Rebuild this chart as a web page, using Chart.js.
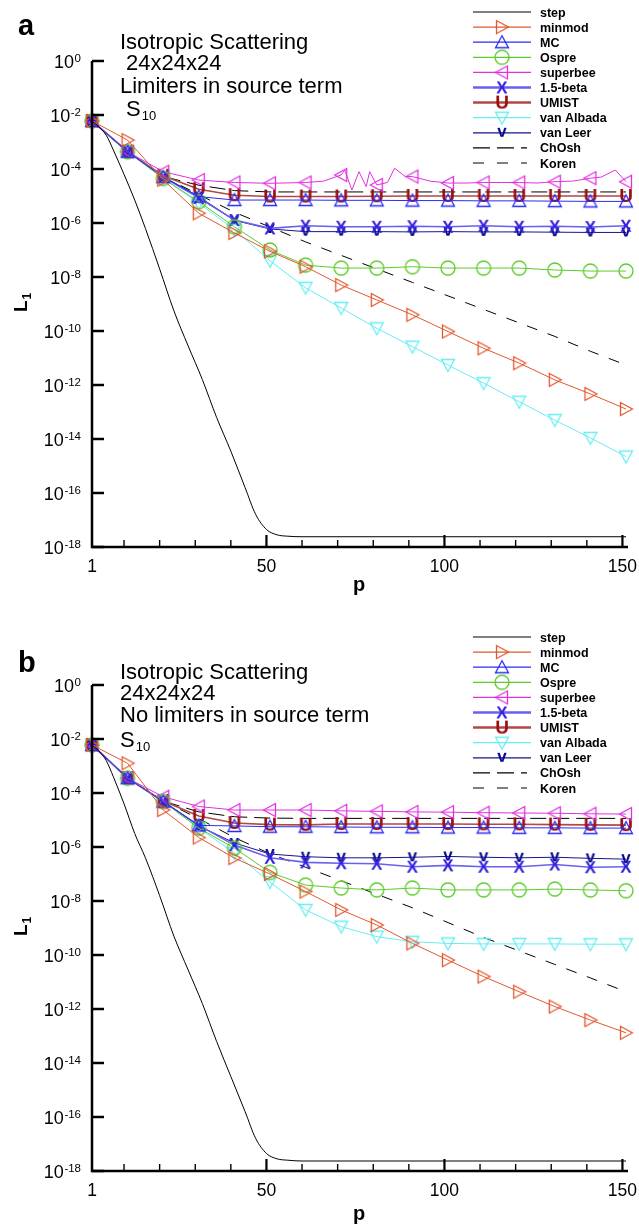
<!DOCTYPE html>
<html>
<head>
<meta charset="utf-8">
<title>L1 convergence of limiters</title>
<script src="https://cdn.jsdelivr.net/npm/chart.js@4.4.1/dist/chart.umd.min.js"></script>
<style>
  html, body { margin: 0; padding: 0; background: #fff; }
  canvas { display: block; }
</style>
</head>
<body>
<canvas id="chartA" width="639" height="624"></canvas>
<canvas id="chartB" width="639" height="603"></canvas>
<script>
// p positions where the markers sit (every 10th iteration)
const pMarks = [1, 11, 21, 31, 41, 51, 61, 71, 81, 91, 101, 111, 121, 131, 141, 151];

// all values below are log10(L1)

// --- panel a: limiters in source term ---
const stepP = [1, 3, 5, 7, 10, 13, 16, 20, 24, 28, 32, 36, 40, 44, 47, 50, 53, 56, 60, 151];
const stepA = [-2.22, -2.45, -2.75, -3.3, -4.2, -5.15, -6.2, -7.7, -9.25, -10.55, -11.8, -13.2, -14.45, -15.8, -16.8, -17.35, -17.55, -17.6, -17.62, -17.62];
const minmodA = [-2.22, -2.93, -4.4, -5.64, -6.37, -7.05, -7.62, -8.3, -8.85, -9.4, -10.02, -10.64, -11.19, -11.81, -12.33, -12.89];
const mcA = [-2.22, -3.36, -4.3, -5.02, -5.15, -5.15, -5.15, -5.16, -5.16, -5.17, -5.17, -5.18, -5.18, -5.19, -5.2, -5.2];
const ospreA = [-2.22, -3.36, -4.35, -5.21, -6.14, -7.0, -7.56, -7.67, -7.67, -7.62, -7.67, -7.67, -7.67, -7.74, -7.78, -7.78];
const superbeeP = [1, 11, 21, 31, 41, 51, 61, 66, 71, 72, 74, 76, 78, 79, 81, 84, 86, 89, 91, 96, 101, 106, 111, 116, 121, 126, 131, 136, 141, 144, 148, 151];
const superbeeA = [-2.22, -3.36, -4.1, -4.41, -4.5, -4.53, -4.5, -4.45, -4.22, -4.04, -4.78, -4.1, -4.65, -4.1, -4.59, -4.5, -3.97, -4.28, -4.28, -4.45, -4.52, -4.52, -4.5, -4.5, -4.5, -4.52, -4.47, -4.45, -4.34, -4.3, -4.04, -4.47];
const betaA = [-2.22, -3.36, -4.3, -5.07, -5.89, -6.2, -6.1, -6.14, -6.14, -6.12, -6.14, -6.1, -6.14, -6.12, -6.15, -6.1];
const umistA = [-2.22, -3.36, -4.25, -4.75, -4.97, -5.02, -5.02, -5.02, -5.01, -5.0, -5.0, -5.0, -5.0, -5.0, -5.0, -5.0];
const albadaA = [-2.22, -3.36, -4.35, -5.27, -6.25, -7.4, -8.4, -9.15, -9.9, -10.58, -11.26, -11.93, -12.62, -13.3, -13.96, -14.65];
const leerA = [-2.22, -3.36, -4.28, -5.02, -5.9, -6.22, -6.32, -6.32, -6.32, -6.33, -6.32, -6.33, -6.33, -6.34, -6.35, -6.35];
const chOshA = [-2.22, -3.36, -4.28, -4.6, -4.8, -4.85, -4.85, -4.85, -4.85, -4.85, -4.85, -4.85, -4.85, -4.85, -4.85, -4.85];
const korenA = [-2.22, -3.36, -4.28, -4.95, -5.6, -6.15, -6.7, -7.2, -7.7, -8.2, -8.7, -9.2, -9.7, -10.2, -10.75, -11.26];

// --- panel b: no limiters in source term ---
const stepB = [-2.22, -2.45, -2.8, -3.4, -4.4, -5.5, -6.4, -7.8, -9.3, -10.55, -11.8, -13.2, -14.5, -15.8, -16.8, -17.35, -17.55, -17.6, -17.63, -17.63];
const minmodB = [-2.22, -2.9, -4.63, -5.65, -6.41, -7.0, -7.65, -8.33, -8.89, -9.57, -10.19, -10.8, -11.36, -11.91, -12.41, -12.88];
const mcB = [-2.22, -3.45, -4.32, -5.2, -5.22, -5.25, -5.25, -5.26, -5.27, -5.27, -5.28, -5.28, -5.29, -5.29, -5.3, -5.3];
const ospreB = [-2.22, -3.45, -4.32, -5.3, -6.04, -6.94, -7.41, -7.52, -7.59, -7.52, -7.59, -7.59, -7.59, -7.56, -7.59, -7.62];
const superbeeB = [-2.22, -3.45, -4.14, -4.5, -4.63, -4.63, -4.63, -4.66, -4.68, -4.7, -4.71, -4.73, -4.74, -4.75, -4.77, -4.78];
const betaB = [-2.22, -3.45, -4.32, -5.2, -5.93, -6.4, -6.57, -6.6, -6.62, -6.73, -6.68, -6.73, -6.73, -6.65, -6.75, -6.73];
const umistB = [-2.22, -3.45, -4.3, -4.85, -5.11, -5.17, -5.18, -5.15, -5.15, -5.15, -5.15, -5.16, -5.16, -5.17, -5.18, -5.19];
const albadaB = [-2.22, -3.45, -4.32, -5.3, -6.22, -7.3, -8.33, -8.95, -9.32, -9.51, -9.57, -9.59, -9.59, -9.59, -9.6, -9.6];
const leerB = [-2.22, -3.45, -4.3, -5.22, -5.85, -6.26, -6.36, -6.4, -6.4, -6.38, -6.35, -6.38, -6.4, -6.38, -6.42, -6.45];
const chOshB = [-2.22, -3.45, -4.3, -4.7, -4.88, -4.93, -4.94, -4.94, -4.94, -4.94, -4.94, -4.94, -4.94, -4.94, -4.94, -4.94];
const korenB = [-2.22, -3.45, -4.3, -4.95, -5.65, -6.25, -6.75, -7.25, -7.75, -8.25, -8.8, -9.35, -9.85, -10.35, -10.85, -11.36];

// axes
const yTickExp = [0, -2, -4, -6, -8, -10, -12, -14, -16, -18];
const xLabels = [1, 50, 100, 150];
const xMajor = [50, 100, 150];
const xMinor = [10, 20, 30, 40, 60, 70, 80, 90, 110, 120, 130, 140];

const FONT = '"Liberation Sans", Arial, sans-serif';

// marker glyphs, drawn once and used as point styles
function triMarker(color, rot) {
    const c = document.createElement('canvas');
    c.width = 18; c.height = 18;
    const g = c.getContext('2d');
    g.translate(9, 9);
    g.rotate(rot * Math.PI / 180);
    g.strokeStyle = color;
    g.lineWidth = 1.3;
    g.beginPath();
    g.moveTo(0, -6.5); g.lineTo(6.5, 5.5); g.lineTo(-6.5, 5.5);
    g.closePath();
    g.stroke();
    return c;
}
function circleMarker(color) {
    const c = document.createElement('canvas');
    c.width = 18; c.height = 18;
    const g = c.getContext('2d');
    g.strokeStyle = color;
    g.lineWidth = 1.3;
    g.beginPath();
    g.arc(9, 9, 7, 0, Math.PI * 2);
    g.stroke();
    return c;
}
function letterMarker(ch, color, size, dy) {
    const c = document.createElement('canvas');
    c.width = 20; c.height = 20;
    const g = c.getContext('2d');
    g.fillStyle = color;
    g.font = 'bold ' + size + 'px ' + FONT;
    g.textAlign = 'center';
    g.textBaseline = 'middle';
    g.fillText(ch, 10, 10 + dy);
    return c;
}

const COL = {
    minmod: '#e2572f', mc: '#2b2bf5', ospre: '#5ccb2c', superbee: '#e030e0',
    beta: '#6a5ff0', umist: '#b04848', albada: '#66eef2', leer: '#14148e'
};
const MK = {
    minmod: triMarker(COL.minmod, 90),
    mc: triMarker(COL.mc, 0),
    ospre: circleMarker(COL.ospre),
    superbee: triMarker(COL.superbee, -90),
    beta: letterMarker('X', '#3322dd', 17, 1),
    umist: letterMarker('U', '#9b0f0f', 19, 1),
    albada: triMarker(COL.albada, 180),
    leer: letterMarker('v', '#0a0a8a', 17, -1)
};

function pts(ps, logs) {
    return ps.map((p, i) => ({ x: p, y: Math.pow(10, logs[i]) }));
}
function series(label, ps, logs, color, marker, extra) {
    return Object.assign({
        label: label,
        data: pts(ps, logs),
        borderColor: color,
        borderWidth: 1,
        tension: 0,
        fill: false,
        clip: false,
        pointStyle: marker || false,
        pointRadius: marker ? (c => (c.raw && pMarks.includes(c.raw.x)) ? 6 : 0) : 0,
        pointHoverRadius: 0,
        pointBorderWidth: 0
    }, extra || {});
}

function buildSets(d) {
    return [
        series('step', stepP, d.step, '#000', null, { cubicInterpolationMode: 'monotone' }),
        series('minmod', pMarks, d.minmod, COL.minmod, MK.minmod),
        series('MC', pMarks, d.mc, COL.mc, MK.mc),
        series('Ospre', pMarks, d.ospre, COL.ospre, MK.ospre),
        series('superbee', d.superbeeP, d.superbee, COL.superbee, MK.superbee),
        series('1.5-beta', pMarks, d.beta, COL.beta, MK.beta, { borderWidth: 1.6 }),
        series('UMIST', pMarks, d.umist, COL.umist, MK.umist, { borderWidth: 1.6 }),
        series('van Albada', pMarks, d.albada, COL.albada, MK.albada),
        series('van Leer', pMarks, d.leer, COL.leer, MK.leer),
        series('ChOsh', pMarks, d.chOsh, '#000', null, { borderDash: [16, 7] }),
        series('Koren', pMarks, d.koren, '#000', null, { borderDash: [11, 11] })
    ];
}

function supText(ctx, x, y, base, small, baseSize, smallSize, shift, bold) {
    const w = bold ? 'bold ' : '';
    ctx.font = w + baseSize + 'px ' + FONT;
    ctx.fillText(base, x, y);
    const bw = ctx.measureText(base).width;
    ctx.font = w + smallSize + 'px ' + FONT;
    ctx.fillText(small, x + bw + 1, y + shift);
}

// axes, tick labels, titles and notes
const frame = {
    id: 'frame',
    afterDatasetsDraw(chart, args, o) {
        const ctx = chart.ctx;
        const a = chart.chartArea;
        const sx = chart.scales.x, sy = chart.scales.y;
        ctx.save();
        ctx.strokeStyle = '#000';
        ctx.fillStyle = '#000';
        ctx.lineWidth = 2.5;
        ctx.beginPath();
        ctx.moveTo(a.left, a.top);
        ctx.lineTo(a.left, a.bottom);
        ctx.lineTo(a.right + 2, a.bottom);
        ctx.stroke();

        ctx.textBaseline = 'alphabetic';
        yTickExp.forEach(e => {
            const py = sy.getPixelForValue(Math.pow(10, e));
            ctx.lineWidth = 2.5;
            ctx.beginPath();
            ctx.moveTo(a.left, py);
            ctx.lineTo(a.left + 12, py);
            ctx.stroke();
            const ex = String(e).replace('-', '-');
            ctx.font = '11.5px ' + FONT;
            const ew = ctx.measureText(ex).width;
            ctx.font = '18px ' + FONT;
            const bw = ctx.measureText('10').width;
            const right = a.left - 11;
            ctx.fillText('10', right - ew - bw - 0.5, py + 6.5);
            ctx.font = '11.5px ' + FONT;
            ctx.fillText(ex, right - ew, py + 0.5);
        });

        xMajor.forEach(v => {
            const px = sx.getPixelForValue(v);
            ctx.lineWidth = 2.2;
            ctx.beginPath();
            ctx.moveTo(px, a.bottom);
            ctx.lineTo(px, a.bottom - 12);
            ctx.stroke();
        });
        xMinor.forEach(v => {
            const px = sx.getPixelForValue(v);
            ctx.lineWidth = 1.4;
            ctx.beginPath();
            ctx.moveTo(px, a.bottom);
            ctx.lineTo(px, a.bottom - 7);
            ctx.stroke();
        });
        ctx.font = '17.5px ' + FONT;
        ctx.textAlign = 'center';
        xLabels.forEach(v => {
            ctx.fillText(String(v), sx.getPixelForValue(v), a.bottom + 25);
        });

        // axis titles
        ctx.font = 'bold 20px ' + FONT;
        ctx.fillText('p', (a.left + a.right) / 2, o.pBase);
        ctx.save();
        ctx.translate(27, (a.top + a.bottom) / 2);
        ctx.rotate(-Math.PI / 2);
        ctx.textAlign = 'left';
        supText(ctx, -8, 0, 'L', '1', 19, 12, 4, true);
        ctx.restore();

        // panel letter and notes
        ctx.textAlign = 'left';
        ctx.font = 'bold 29px ' + FONT;
        ctx.fillText(o.letter, 18, o.letterBase);
        o.notes.forEach(n => {
            if (n.sub) {
                supText(ctx, n.x, n.y, n.text, n.sub, 22, 13, 4, false);
            } else {
                ctx.font = '22px ' + FONT;
                ctx.fillText(n.text, n.x, n.y);
            }
        });
        ctx.restore();
    }
};

// line + marker legend in the top right corner
const keyBox = {
    id: 'keyBox',
    afterDraw(chart, args, o) {
        const ctx = chart.ctx;
        ctx.save();
        chart.data.datasets.forEach((ds, i) => {
            const y = o.top + i * 15.1;
            ctx.strokeStyle = ds.borderColor;
            ctx.lineWidth = ds.borderWidth > 1 ? 2.5 : 1.2;
            ctx.setLineDash(ds.label === 'ChOsh' ? [17, 7, 17, 7, 6, 100] : ds.label === 'Koren' ? [11, 13, 11, 13, 6, 100] : []);
            ctx.beginPath();
            ctx.moveTo(473, y);
            ctx.lineTo(531, y);
            ctx.stroke();
            ctx.setLineDash([]);
            if (ds.pointStyle) {
                const m = ds.pointStyle;
                ctx.drawImage(m, 502 - m.width / 2, y - m.height / 2);
            }
            ctx.fillStyle = '#000';
            ctx.font = 'bold 12.5px ' + FONT;
            ctx.textBaseline = 'alphabetic';
            ctx.fillText(ds.label, 540, y + 4.5);
        });
        ctx.restore();
    }
};

function makeChart(id, h, d, frameOpts, keyTop) {
    return new Chart(document.getElementById(id), {
        type: 'line',
        data: { datasets: buildSets(d) },
        options: {
            responsive: false,
            animation: false,
            events: [],
            layout: { padding: { left: 92, right: 13, top: 61, bottom: h - 547 } },
            scales: {
                x: { type: 'linear', min: 1, max: 151, display: false },
                y: { type: 'logarithmic', min: 1e-18, max: 1, display: false }
            },
            plugins: {
                legend: { display: false },
                tooltip: { enabled: false },
                frame: frameOpts,
                keyBox: { top: keyTop }
            }
        },
        plugins: [frame, keyBox]
    });
}

makeChart('chartA', 624, {
    step: stepA, minmod: minmodA, mc: mcA, ospre: ospreA, superbeeP: superbeeP, superbee: superbeeA,
    beta: betaA, umist: umistA, albada: albadaA, leer: leerA, chOsh: chOshA, koren: korenA
}, {
    letter: 'a', letterBase: 35, pBase: 591,
    notes: [
        { text: 'Isotropic Scattering', x: 120, y: 48.5 },
        { text: ' 24x24x24', x: 120, y: 70 },
        { text: 'Limiters in source term', x: 120, y: 92.5 },
        { text: ' S', sub: '10', x: 120, y: 116 }
    ]
}, 12);

makeChart('chartB', 603, {
    step: stepB, minmod: minmodB, mc: mcB, ospre: ospreB, superbeeP: pMarks, superbee: superbeeB,
    beta: betaB, umist: umistB, albada: albadaB, leer: leerB, chOsh: chOshB, koren: korenB
}, {
    letter: 'b', letterBase: 48, pBase: 596,
    notes: [
        { text: 'Isotropic Scattering', x: 120, y: 54.5 },
        { text: '24x24x24', x: 120, y: 76 },
        { text: 'No limiters in source term', x: 120, y: 97.5 },
        { text: 'S', sub: '10', x: 120, y: 122.5 }
    ]
}, 13);
</script>
</body>
</html>
